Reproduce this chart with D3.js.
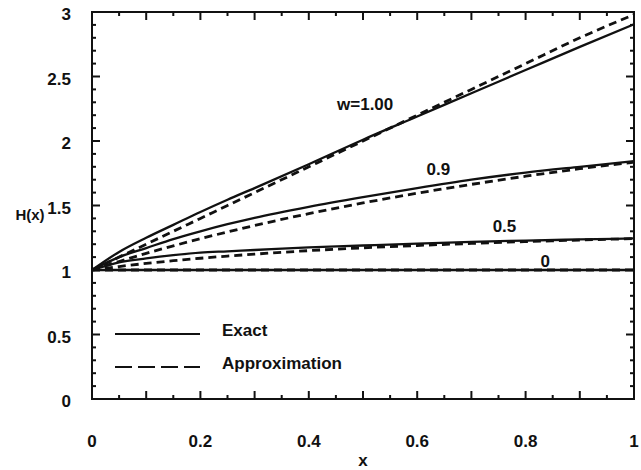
<!DOCTYPE html>
<html><head><meta charset="utf-8">
<script src="https://cdn.jsdelivr.net/npm/d3@7"></script>
<style>
body{margin:0;background:#fff;}
text{font-family:"Liberation Sans",Arial,Helvetica,sans-serif;font-weight:bold;fill:#111;}
</style></head><body>
<svg id="chart" width="641" height="470"></svg>
<script>
const xs = [0, 0.05, 0.1, 0.15, 0.2, 0.25, 0.3, 0.4, 0.5, 0.6, 0.7, 0.8, 0.9, 1.0];
const exactW100 = [1, 1.14, 1.25, 1.35, 1.45, 1.545, 1.635, 1.82, 2.01, 2.19, 2.37, 2.55, 2.73, 2.905];
const approxW100 = [1, 1.10, 1.20, 1.30, 1.40, 1.50, 1.60, 1.80, 2.00, 2.20, 2.40, 2.60, 2.80, 2.98];
const exactW090 = [1, 1.10, 1.17, 1.24, 1.30, 1.355, 1.405, 1.49, 1.565, 1.635, 1.70, 1.755, 1.80, 1.843];
const approxW090 = [1, 1.066, 1.129, 1.187, 1.243, 1.295, 1.345, 1.437, 1.52, 1.595, 1.664, 1.727, 1.785, 1.836];
const exactW050 = [1, 1.06, 1.09, 1.115, 1.135, 1.145, 1.155, 1.175, 1.19, 1.205, 1.218, 1.228, 1.237, 1.245];
const approxW050 = [1, 1.027, 1.051, 1.072, 1.091, 1.108, 1.123, 1.15, 1.172, 1.19, 1.206, 1.22, 1.232, 1.243];
const exactW000 = [1, 1, 1, 1, 1, 1, 1, 1, 1, 1, 1, 1, 1, 1];
const approxW000 = [1, 1, 1, 1, 1, 1, 1, 1, 1, 1, 1, 1, 1, 1];
const curveLabels = ["w=1.00", "0.9", "0.5", "0"];
const labelAnchors = [[0.504, 2.24], [0.639, 1.736], [0.761, 1.297], [0.836, 1.023]];
const xTickLabels = [0, 0.2, 0.4, 0.6, 0.8, 1];
const yTickLabels = [0, 0.5, 1, 1.5, 2, 2.5, 3];
const legendLabels = ["Exact", "Approximation"];

const svg = d3.select("#chart");
const L = 92, R = 634, T = 12, B = 399;
const x = d3.scaleLinear().domain([0, 1]).range([L, R]);
const y = d3.scaleLinear().domain([0, 3]).range([B, T]);

// frame
svg.append("rect").attr("x", L).attr("y", T).attr("width", R - L).attr("height", B - T)
  .attr("fill", "none").attr("stroke", "#111").attr("stroke-width", 2);

const g = svg.append("g").attr("stroke", "#111");
const xMajor = d3.range(0, 1.0001, 0.1), xMinor = d3.range(0.05, 1, 0.1);
const yMajor = d3.range(0, 3.0001, 0.5), yMinor = d3.range(0, 3.0001, 0.1).filter(v => Math.abs(v*2 - Math.round(v*2)) > 1e-6);
function xt(vals, len) {
  vals.forEach(v => {
    g.append("line").attr("x1", x(v)).attr("x2", x(v)).attr("y1", B).attr("y2", B - len).attr("stroke-width", 2);
    g.append("line").attr("x1", x(v)).attr("x2", x(v)).attr("y1", T).attr("y2", T + len).attr("stroke-width", 2);
  });
}
function yt(vals, len) {
  vals.forEach(v => {
    g.append("line").attr("y1", y(v)).attr("y2", y(v)).attr("x1", L).attr("x2", L + len).attr("stroke-width", 2);
    g.append("line").attr("y1", y(v)).attr("y2", y(v)).attr("x1", R).attr("x2", R - len).attr("stroke-width", 2);
  });
}
xt(xMajor, 8); xt(xMinor, 4); yt(yMajor, 8); yt(yMinor, 4);

// tick labels
svg.selectAll(".xl").data(xTickLabels).enter().append("text")
  .attr("x", d => x(d)).attr("y", 447).attr("text-anchor", "middle").attr("font-size", 17)
  .text(d => d3.format("")(d));
svg.selectAll(".yl").data(yTickLabels).enter().append("text")
  .attr("x", 71).attr("y", d => y(d) + 8).attr("text-anchor", "end").attr("font-size", 17)
  .text(d => d3.format("")(d));

svg.append("text").attr("x", 30).attr("y", 220).attr("text-anchor", "middle").attr("font-size", 15).text("H(x)");
svg.append("text").attr("x", x(0.5)).attr("y", 466).attr("text-anchor", "middle").attr("font-size", 17).text("x");

const series = [
  [exactW100, approxW100], [exactW090, approxW090], [exactW050, approxW050], [exactW000, approxW000]
];
const line = d3.line().x(d => x(d[0])).y(d => y(d[1])).curve(d3.curveMonotoneX);
series.forEach(([ex, ap]) => {
  svg.append("path").attr("d", line(xs.map((v, i) => [v, ap[i]])))
    .attr("fill", "none").attr("stroke", "#111").attr("stroke-width", 2.8).attr("stroke-dasharray", "8,5");
  svg.append("path").attr("d", line(xs.map((v, i) => [v, ex[i]])))
    .attr("fill", "none").attr("stroke", "#111").attr("stroke-width", 2.3);
});

curveLabels.forEach((t, i) => {
  svg.append("text").attr("x", x(labelAnchors[i][0])).attr("y", y(labelAnchors[i][1]))
    .attr("text-anchor", "middle").attr("font-size", 17).text(t);
});

// legend
const legY = [334, 367];
svg.append("line").attr("x1", 115).attr("x2", 200).attr("y1", legY[0]).attr("y2", legY[0])
  .attr("stroke", "#111").attr("stroke-width", 2);
svg.append("line").attr("x1", 115).attr("x2", 200).attr("y1", legY[1]).attr("y2", legY[1])
  .attr("stroke", "#111").attr("stroke-width", 2).attr("stroke-dasharray", "17,6");
legendLabels.forEach((t, i) => {
  svg.append("text").attr("x", 222).attr("y", legY[i] + 2).attr("font-size", 17).text(t);
});
</script></body></html>
